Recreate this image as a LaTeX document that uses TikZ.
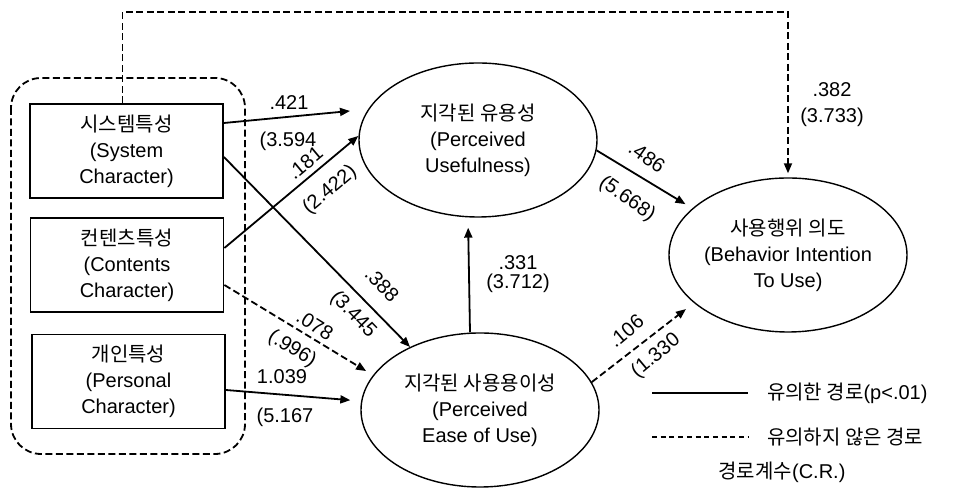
\documentclass[tikz,border=0pt]{standalone}
\usepackage{fontspec}
\setmainfont{Liberation Sans}
\newfontfamily\kr{Noto Sans CJK KR}
\usetikzlibrary{arrows.meta, shapes.geometric}

\begin{document}
\begin{tikzpicture}[x=0.5pt, y=-0.5pt, >={Triangle[length=5pt, width=4pt]},
    font=\fontsize{10}{13}\selectfont,
    factor/.style={draw, line width=0.9pt, minimum width=96.5pt, minimum height=47pt, inner sep=0pt, align=center},
    latent/.style={draw, ellipse, line width=0.7pt, minimum width=119pt, minimum height=77pt, inner sep=0pt, align=center},
    sig/.style={->, line width=0.9pt},
    nsig/.style={->, line width=0.9pt, dash pattern=on 3.5pt off 1.75pt},
    coef/.style={inner sep=1pt}]
    \useasboundingbox (0,0) rectangle (955,490);
    % the three characteristics, grouped
    \draw[line width=0.9pt, dash pattern=on 3.5pt off 1.75pt, rounded corners=15pt] (11,78) rectangle (245,454);
    \node[factor] (sys) at (126.5,151) {{\kr 시스템특성}\\(System\\Character)};
    \node[factor] (cnt) at (127,265) {{\kr 컨텐츠특성}\\(Contents\\Character)};
    \node[factor] (per) at (128.5,381.5) {{\kr 개인특성}\\(Personal\\Character)};
    % latent variables
    \node[latent] (pu) at (478,140) {{\kr 지각된 유용성}\\(Perceived\\Usefulness)};
    \node[latent] (peou) at (480,410) {{\kr 지각된 사용용이성}\\(Perceived\\Ease of Use)};
    \node[latent] (bi) at (788,255) {{\kr 사용행위 의도}\\(Behavior Intention\\To Use)};
    % paths
    \coordinate (e421) at (350,111);
    \coordinate (top) at (455,12);
    \draw[sig] ([yshift=14pt]sys.east) -- (e421);
    \draw[sig] ([yshift=8.5pt]cnt.east) -- ([yshift=2pt]pu.west);
    \draw[sig] ([yshift=-3pt]sys.east) -- (peou.138);
    \draw[nsig, shorten >=4pt] ([yshift=-10pt]cnt.east) -- (peou.162);
    \draw[sig, shorten >=5pt] ([yshift=-4.25pt]per.east) -- ([yshift=4.5pt]peou.west);
    \draw[sig, shorten >=5pt] ([xshift=-5pt]peou.north) -- ([xshift=-5pt]pu.south);
    \draw[sig, shorten >=4pt] (pu.-5) -- (bi.154);
    \draw[nsig, shorten >=5pt] (peou.14) -- (bi.207);
    \draw[nsig, shorten >=2pt] ([xshift=-2pt]sys.north) -- ([xshift=-2pt]sys.north |- top) -| (bi.north);
    % path coefficients (C.R.)
    \node[coef] (c421) at (289,103) {.421};
    \node[coef] (r421) at (288,141) {(3.594};
    \node[coef, rotate=40] (c181) at (305,163) {.181};
    \node[coef, rotate=40] (r181) at (330,190) {(2.422)};
    \node[coef, rotate=-46] (c388) at (382,285) {.388};
    \node[coef, rotate=-46] (r388) at (353,315) {(3.445};
    \node[coef, rotate=-32] (c078) at (315,325) {.078};
    \node[coef, rotate=-32] (r078) at (292,349) {(.996)};
    \node[coef] (c039) at (282,377) {1.039};
    \node[coef] (r039) at (285,417) {(5.167};
    \node[coef] (c331) at (518,263) {.331};
    \node[coef] (r331) at (518,283) {(3.712)};
    \node[coef, rotate=-35] (c486) at (647,157) {.486};
    \node[coef, rotate=-35] (r486) at (627,199) {(5.668)};
    \node[coef] (c382) at (832,90) {.382};
    \node[coef] (r382) at (832,117) {(3.733)};
    \node[coef, rotate=40] (c106) at (626,331) {.106};
    \node[coef, rotate=40] (r106) at (656,356) {(1.330};
    % legend
    \coordinate (s1) at (652,393);
    \coordinate (s2) at (748,393);
    \coordinate (n1) at (652,437);
    \coordinate (n2) at (748,437);
    \draw[line width=0.9pt] (s1) -- (s2);
    \draw[line width=0.9pt, dash pattern=on 2.5pt off 1.85pt] (n1) -- (n2);
    \node[anchor=west] (lsig) at (760,393) {{\kr 유의한 경로}(p<.01)};
    \node[anchor=west] (lnsig) at (760,437) {\kr 유의하지~않은~경로};
    \node (lcr) at (782,472) {{\kr 경로계수}(C.R.)};
\end{tikzpicture}
\end{document}
